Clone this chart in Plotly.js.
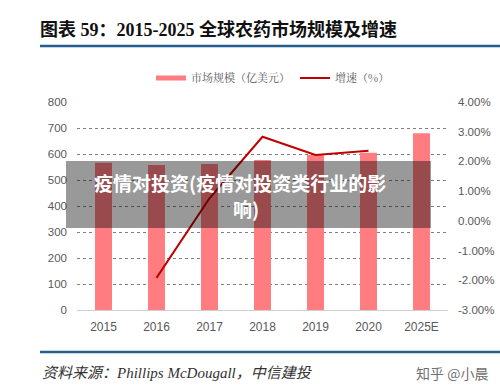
<!DOCTYPE html>
<html>
<head>
<meta charset="utf-8">
<script src="https://cdn.plot.ly/plotly-3.0.1.min.js"></script>
<style>html,body{margin:0;padding:0;background:#fff;}#chart{width:500px;height:390px;}</style>
</head>
<body>
<div id="chart"></div>
<script>
// Data
const categories = ['2015', '2016', '2017', '2018', '2019', '2020', '2025E'];
const marketSize = [566, 558, 562, 577, 596, 605, 680];          // 市场规模（亿美元）
const growthRate = [null, -1.92, 0.76, 2.83, 2.22, 2.36, null];  // 增速（%）
const leftTicks = [0, 100, 200, 300, 400, 500, 600, 700, 800];
const rightTicks = [-3, -2, -1, 0, 1, 2, 3, 4];

const barColor = '#ff7c80';
const lineColor = '#c00000';
const navy = '#255e91';
const tickFont = {family: 'Liberation Sans, Arial, sans-serif', size: 11.5, color: '#595959'};

const traces = [
  {type: 'bar', x: categories, y: marketSize, marker: {color: barColor}, width: 0.32,
   showlegend: false, hoverinfo: 'skip'},
  {type: 'scatter', mode: 'lines', x: [null], y: [null], name: '市场规模（亿美元）',
   line: {color: barColor, width: 5}},
  {type: 'scatter', mode: 'lines', x: categories, y: growthRate, yaxis: 'y2', name: '增速（%）',
   line: {color: lineColor, width: 2}, connectgaps: false}
];

const px = x => (x - 77) / 371;
const py = y => (310 - y) / 208;

const layout = {
  width: 500, height: 390,
  margin: {l: 77, r: 52, t: 102, b: 80},
  paper_bgcolor: '#ffffff', plot_bgcolor: '#ffffff',
  title: {text: '图表 59：2015-2025 全球农药市场规模及增速', xref: 'container', yref: 'container',
          x: 0.08, xanchor: 'left', y: 1 - 30 / 390, yanchor: 'middle',
          font: {family: 'Liberation Serif, Noto Sans CJK SC, serif', size: 18, color: '#111', weight: 'bold'}},
  showlegend: true,
  legend: {orientation: 'h', x: px(151), xanchor: 'left', y: py(78), yanchor: 'middle',
           font: {family: 'Noto Serif CJK SC, Noto Sans CJK SC, serif', size: 11, color: '#595959'},
           bgcolor: 'rgba(0,0,0,0)', itemwidth: 30},
  xaxis: {type: 'category', tickfont: {family: 'Liberation Sans, Arial, sans-serif', size: 12, color: '#595959'},
          showline: true, linecolor: '#d0d0d0', linewidth: 1, ticks: '', showgrid: false,
          ticklabelstandoff: 6, fixedrange: true},
  yaxis: {range: [0, 800], tickvals: leftTicks, ticktext: leftTicks.map(String), tickfont: tickFont,
          showgrid: true, gridcolor: '#808080', griddash: 'dot', gridwidth: 1,
          zeroline: true, zerolinecolor: '#d0d0d0', zerolinewidth: 1,
          ticks: '', ticklabelstandoff: 9, fixedrange: true},
  yaxis2: {range: [-3, 4], overlaying: 'y', side: 'right', tickvals: rightTicks,
           ticktext: rightTicks.map(v => v.toFixed(2) + '%'), tickfont: tickFont,
           showgrid: false, zeroline: false, ticks: '', ticklabelstandoff: 9, fixedrange: true},
  shapes: [
    {type: 'line', xref: 'paper', yref: 'paper', x0: px(40), x1: px(500), y0: py(46), y1: py(46),
     line: {color: navy, width: 2.5}},
    {type: 'line', xref: 'paper', yref: 'paper', x0: px(40), x1: px(500), y0: py(352), y1: py(352),
     line: {color: navy, width: 2.5}},
    {type: 'rect', xref: 'paper', yref: 'paper', x0: px(66), x1: px(431), y0: py(228), y1: py(161),
     fillcolor: 'rgba(0,0,0,0.4)', line: {width: 0}, layer: 'above'}
  ],
  annotations: [
    {xref: 'paper', yref: 'paper', x: px(240), y: py(182), xanchor: 'center', yanchor: 'middle',
     text: '疫情对投资(疫情对投资类行业的影', showarrow: false, align: 'center',
     font: {family: 'Noto Sans CJK SC, sans-serif', size: 19, color: '#ffffff', weight: 'bold'}},
    {xref: 'paper', yref: 'paper', x: px(246), y: py(208), xanchor: 'center', yanchor: 'middle',
     text: '响)', showarrow: false, align: 'center',
     font: {family: 'Noto Sans CJK SC, sans-serif', size: 19, color: '#ffffff', weight: 'bold'}},
    {xref: 'paper', yref: 'paper', x: px(40), y: py(373), xanchor: 'left', yanchor: 'middle',
     text: '<i>资料来源：Phillips McDougall，中信建投</i>', showarrow: false,
     font: {family: 'Liberation Serif, Noto Sans CJK SC, serif', size: 15, color: '#333'}},
    {xref: 'paper', yref: 'paper', x: px(490), y: py(373), xanchor: 'right', yanchor: 'middle',
     text: '知乎 @小晨', showarrow: false,
     font: {family: 'Noto Sans CJK SC, sans-serif', size: 14, color: 'rgba(60,60,60,0.75)'}}
  ]
};

Plotly.newPlot('chart', traces, layout, {displayModeBar: false, staticPlot: true});
</script>
</body>
</html>
